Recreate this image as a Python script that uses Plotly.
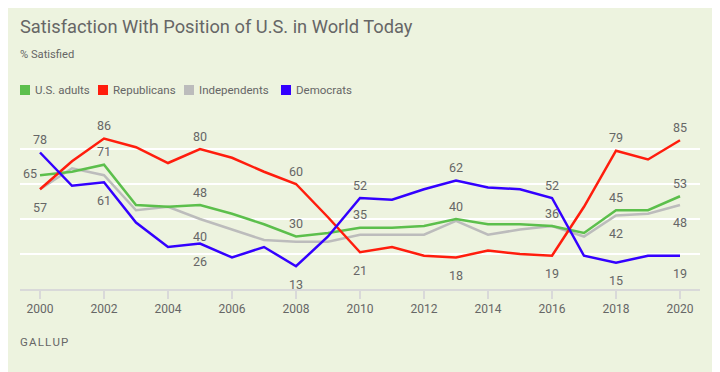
import plotly.graph_objects as go

years = list(range(2000, 2021))
us_adults = [65, 67, 71, 48, 47, 48, 43, 37, 30, 32, 35, 35, 36, 40, 37, 37, 36, 32, 45, 45, 53]
republicans = [57, 73, 86, 81, 72, 80, 75, 67, 60, 41, 21, 24, 19, 18, 22, 20, 19, 47, 79, 74, 85]
independents = [57, 69, 65, 45, 47, 40, 34, 28, 27, 27, 31, 31, 31, 39, 31, 34, 36, 30, 42, 43, 48]
democrats = [78, 59, 61, 38, 24, 26, 18, 24, 13, 30, 52, 51, 57, 62, 58, 57, 52, 19, 15, 19, 19]
tick_years = list(range(2000, 2021, 2))

series_names = ["U.S. adults", "Republicans", "Independents", "Democrats"]
colors = ["#5cbf4c", "#ff1d0d", "#bcbcbc", "#3300ff"]

labels = {
    "U.S. adults": {2000: "middle left", 2002: "top center", 2005: "top center", 2008: "top center",
                    2010: "top center", 2013: "top center", 2016: "top center", 2018: "top center",
                    2020: "top center"},
    "Republicans": {2000: "bottom center", 2002: "top center", 2005: "top center", 2008: "top center",
                    2010: "bottom center", 2013: "bottom center", 2016: "bottom center",
                    2018: "top center", 2020: "top center"},
    "Independents": {2005: "bottom center", 2018: "bottom center", 2020: "bottom center"},
    "Democrats": {2000: "top center", 2002: "bottom center", 2005: "bottom center", 2008: "bottom center",
                  2010: "top center", 2013: "top center", 2016: "top center", 2018: "bottom center",
                  2020: "bottom center"},
}

data = [us_adults, republicans, independents, democrats]
draw_order = [2, 0, 1, 3]
FONT = "Roboto"
TXT = "#666666"
# transparent marker size per label position (controls label distance from the line)
pos_marker = {"top center": 7, "bottom center": 19, "middle left": 3}

fig = go.Figure()
for i in draw_order:
    fig.add_trace(go.Scatter(
        x=years, y=data[i], mode="lines", name=series_names[i],
        line=dict(color=colors[i], width=2.5),
        showlegend=False, hoverinfo="skip",
    ))

for i in draw_order:
    name = series_names[i]
    lab = labels[name]
    for p, msize in pos_marker.items():
        xs = [y for y in years if lab.get(y) == p]
        if not xs:
            continue
        ys = [data[i][years.index(y)] for y in xs]
        fig.add_trace(go.Scatter(
            x=xs, y=ys, mode="markers+text",
            marker=dict(size=msize, color="rgba(0,0,0,0)"),
            text=[str(v) for v in ys], textposition=p,
            textfont=dict(size=12.5, color=TXT, family=FONT),
            showlegend=False, hoverinfo="skip", cliponaxis=False,
        ))

# page body has an 8px margin: figure is drawn 8px smaller and positions compensate
W, H = 712, 364
L, R, T, B = 12, 20, 106, 83
PW = W - L - R
PH = H - T - B

def px_x(ref_x):
    return (ref_x - 8 - L) / PW

def px_y(ref_y):
    return (H - B - (ref_y - 8)) / PH

shapes = []
annotations = []
legend_sq = [20, 98, 184, 281]
legend_tx = [33, 111, 197, 294]
for i, name in enumerate(series_names):
    shapes.append(dict(type="rect", xref="paper", yref="paper",
                       x0=px_x(legend_sq[i]), x1=px_x(legend_sq[i] + 10),
                       y0=px_y(95), y1=px_y(85),
                       fillcolor=colors[i], line=dict(width=0)))
    annotations.append(dict(text=name, xref="paper", yref="paper",
                            x=px_x(legend_tx[i]), y=px_y(90), xanchor="left", yanchor="middle",
                            showarrow=False, font=dict(size=11.5, color=TXT, family=FONT)))

annotations.append(dict(text="% Satisfied", xref="paper", yref="paper", x=px_x(18), y=px_y(55),
                        xanchor="left", yanchor="middle", showarrow=False,
                        font=dict(size=11.2, color=TXT, family=FONT)))
annotations.append(dict(text="G\u200aA\u200aL\u200aL\u200aU\u200aP", xref="paper", yref="paper",
                        x=px_x(18), y=px_y(342),
                        xanchor="left", yanchor="middle", showarrow=False,
                        font=dict(size=11.5, color=TXT, family=FONT)))

bg = "#edf3df"
fig.update_layout(
    width=W, height=H,
    paper_bgcolor=bg, plot_bgcolor=bg,
    margin=dict(l=L, r=R, t=T, b=B),
    font=dict(family=FONT, color=TXT),
    title=dict(text="Satisfaction With Position of U.S. in World Today",
               x=(20 - 8) / W, xanchor="left", y=1 - (27 - 8) / H, yanchor="middle",
               font=dict(size=18.3, color=TXT, family=FONT)),
    showlegend=False,
    xaxis=dict(range=[1999.375, 2020.625], tickmode="array", tickvals=tick_years,
               showgrid=False, zeroline=False,
               showline=True, linecolor="#d9d9d9", linewidth=2,
               ticks="outside", ticklen=8, tickwidth=2, tickcolor="#d9d9d9",
               tickfont=dict(size=12, color=TXT, family=FONT)),
    yaxis=dict(range=[0, 100], tickvals=[20, 40, 60, 80, 100], showticklabels=False,
               showgrid=True, gridcolor="#ffffff", gridwidth=2, zeroline=False),
    shapes=shapes,
    annotations=annotations,
)

fig.write_html("out.html")
